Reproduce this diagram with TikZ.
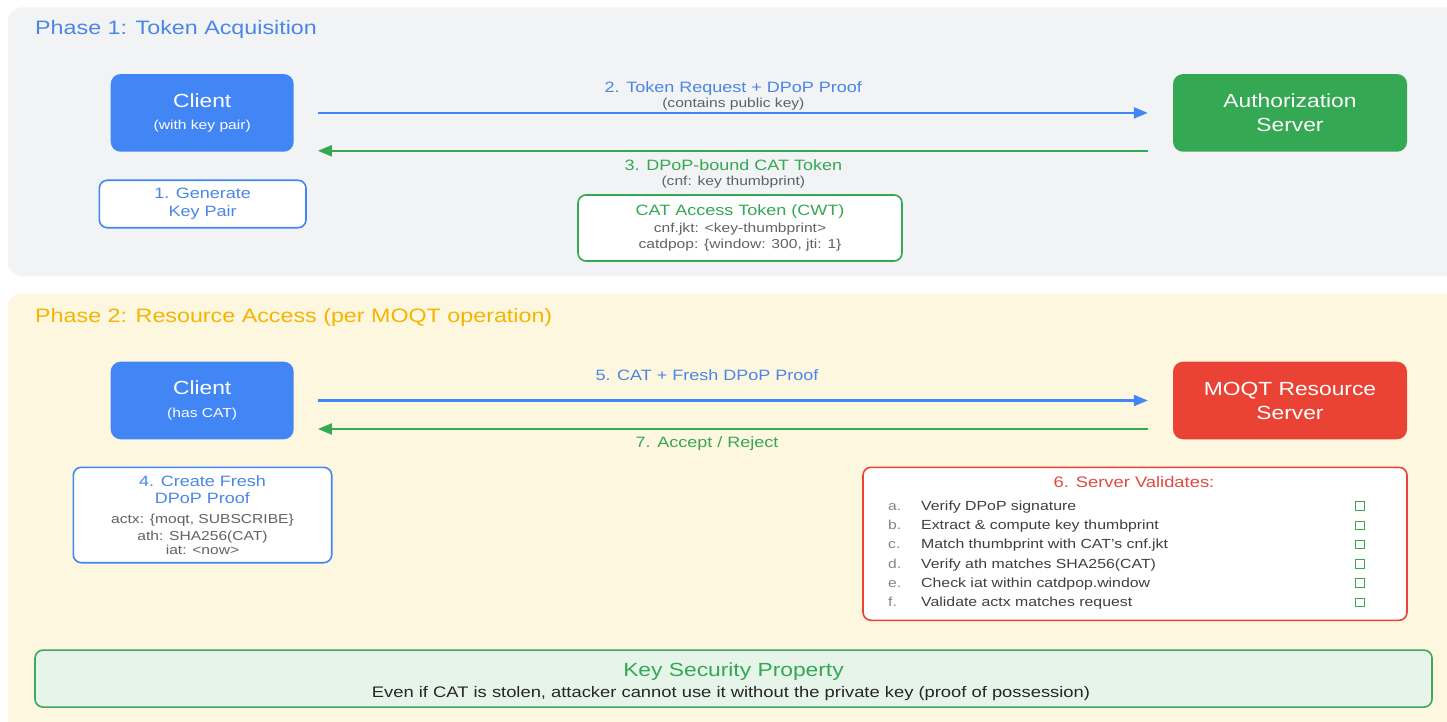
\documentclass[tikz,border=0pt]{standalone}
\usepackage{fontspec}
\setmainfont{Liberation Sans}[FakeStretch=1.2]
\usetikzlibrary{arrows.meta}

\definecolor{gblue}{HTML}{4285F4}
\definecolor{ggreen}{HTML}{34A853}
\definecolor{gred}{HTML}{EA4335}
\definecolor{gyellow}{HTML}{F4B400}
\definecolor{txtblue}{HTML}{4A86E8}
\definecolor{txtred}{HTML}{E04B3F}
\definecolor{txtgray}{HTML}{5F6368}
\definecolor{txtdark}{HTML}{3C4043}
\definecolor{txtletter}{HTML}{80868B}
\definecolor{panelgray}{HTML}{F1F3F4}
\definecolor{panelcream}{HTML}{FEF7E0}
\definecolor{keyfill}{HTML}{E6F4EA}
\definecolor{keyline}{HTML}{43A560}

\newcommand\fsz[2]{\fontsize{#1pt}{#2pt}\selectfont}

\begin{document}
\begin{tikzpicture}[x=1pt,y=-1pt,
  panel/.style={draw=none, rounded corners=14pt, inner sep=0pt},
  actor/.style={rounded corners=10pt, text=white, align=center, inner sep=0pt},
  note/.style={draw, fill=white, line width=1.6pt, rounded corners=8pt, align=center, inner sep=0pt},
  txt/.style={inner sep=0pt, anchor=base},
  flow/.style={line width=2.2pt, -{Triangle[length=14pt,width=11pt]}},
  mainlbl/.style={txt, font=\fsz{15}{18}},
  sublbl/.style={txt, font=\fsz{13}{16}, text=txtgray},
  check/.style={draw=ggreen, line width=1pt, minimum size=8.5pt, inner sep=0pt}
]
\useasboundingbox (0,0) rectangle (1447,722);
\fill[white] (0,0) rectangle (1447,722);

% ---------- Phase 1 ----------
% panels run on past the right edge of the page
\node[panel, fill=panelgray, minimum width=1462pt, minimum height=268.5pt] (ph1) at (739,141.75) {};
\node[txt, anchor=base west, text=txtblue, font=\fsz{19.4}{23}] (ph1t) at (35,35) {Phase 1: Token Acquisition};

\node[actor, fill=gblue, minimum width=183pt, minimum height=77.7pt, font=\fsz{13}{22.5}]
  (c1) at (202.2,112.9) {{\fsz{19}{23}Client}\\(with key pair)};
\node[actor, fill=ggreen, minimum width=234pt, minimum height=77.7pt, font=\fsz{19}{24}]
  (as) at (1290,112.9) {Authorization\\Server};

\node[note, draw=gblue, text=txtblue, minimum width=206.7pt, minimum height=47.4pt, font=\fsz{15}{18}]
  (gen) at (202.65,204) {1. Generate\\Key Pair};

\node[note, draw=ggreen, text=txtgray, minimum width=324pt, minimum height=66pt, font=\fsz{13}{16.7}]
  (cat) at (740,228) {{\fsz{15}{17}\color{ggreen}CAT Access Token (CWT)}\\cnf.jkt: <key-thumbprint>\\catdpop: \{window: 300, jti: 1\}};

\draw[flow, gblue, shorten <=24pt, shorten >=25pt] (c1.east) --
  node[mainlbl, yshift=20pt, text=txtblue] (l2) {2. Token Request + DPoP Proof}
  node[sublbl, yshift=5.8pt] (l2s) {(contains public key)}
  (as.west);
\draw[flow, ggreen, shorten <=25pt, shorten >=24pt] ([yshift=-37.9pt]as.west) --
  node[mainlbl, yshift=-19.3pt, text=ggreen] (l3) {3. DPoP-bound CAT Token}
  node[sublbl, yshift=-34.3pt] (l3s) {(cnf: key thumbprint)}
  ([yshift=-37.9pt]c1.east);

% ---------- Phase 2 ----------
\node[panel, fill=panelcream, minimum width=1462pt, minimum height=447pt] (ph2) at (739,516.8) {};
\node[txt, anchor=base west, text=gyellow, font=\fsz{19.4}{23}] (ph2t) at (35,322) {Phase 2: Resource Access (per MOQT operation)};

\node[actor, fill=gblue, minimum width=183pt, minimum height=77.6pt, font=\fsz{13}{22.6}]
  (c2) at (202.2,400.5) {{\fsz{19}{23}Client}\\(has CAT)};
\node[actor, fill=gred, minimum width=234pt, minimum height=77.6pt, font=\fsz{19}{24}]
  (ms) at (1290,400.5) {MOQT Resource\\Server};

\draw[flow, gblue, shorten <=24pt, shorten >=25pt] (c2.east) --
  node[mainlbl, pos=0.47, yshift=20.2pt, text=txtblue] (l5) {5. CAT + Fresh DPoP Proof}
  (ms.west);
\draw[flow, ggreen, shorten <=25pt, shorten >=24pt] ([yshift=-28.5pt]ms.west) --
  node[mainlbl, pos=0.53, yshift=-18.7pt, text=ggreen] (l7) {7. Accept / Reject}
  ([yshift=-28.5pt]c2.east);

\node[note, draw=gblue, text=txtgray, minimum width=258.4pt, minimum height=95.4pt, font=\fsz{13}{17.3}]
  (dp) at (202.5,515) {{\fsz{15}{17.3}\color{txtblue}4. Create Fresh}\\{\fsz{15}{17.3}\color{txtblue}DPoP Proof}\\[2.7pt]
  actx: \{moqt, SUBSCRIBE\}\\ath: SHA256(CAT)\\[-3.9pt]iat: <now>};

% server-side validation list
\node[note, draw=gred, minimum width=544pt, minimum height=153pt] (val) at (1135,543.8) {};
\node[txt, text=txtred, font=\fsz{15.3}{18}] (valt) at (1134,487) {6. Server Validates:};
\foreach \l/\t [count=\i] in {a./Verify DPoP signature,
                              b./Extract \& compute key thumbprint,
                              c./Match thumbprint with CAT's cnf.jkt,
                              d./Verify ath matches SHA256(CAT),
                              e./Check iat within catdpop.window,
                              f./Validate actx matches request}{
  \node[txt, anchor=base west, text=txtletter, font=\fsz{13}{16}] (vl\i) at ({888},{510.3+19.3*(\i-1)}) {\l};
  \node[txt, anchor=base west, text=txtdark, font=\fsz{13.2}{16}] (vt\i) at ({921},{510.3+19.3*(\i-1)}) {\t};
  \node[check] (vc\i) at ({1360},{506+19.3*(\i-1)}) {};
}

% key property banner
\node[draw=keyline, fill=keyfill, line width=1.6pt, rounded corners=8pt, minimum width=1397pt, minimum height=57pt, inner sep=0pt]
  (key) at (733.5,678.6) {};
\node[txt, text=ggreen, font=\fsz{19}{22}] (keyt) at (733.5,676.5) {Key Security Property};
\node[txt, text=black!85, font=\fsz{15.3}{18}] (keyx) at (731,697) {Even if CAT is stolen, attacker cannot use it without the private key (proof of possession)};
\end{tikzpicture}
\end{document}
